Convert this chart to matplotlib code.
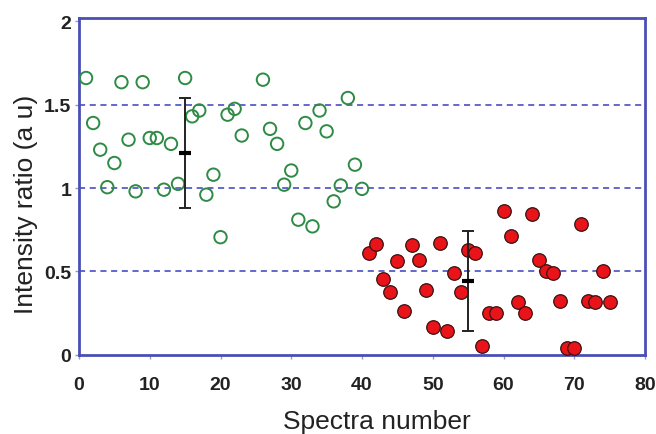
import matplotlib
matplotlib.use("Agg")
import matplotlib.pyplot as plt
import numpy as np

plt.rcParams['font.family'] = ['Liberation Sans', 'DejaVu Sans']

# Group 1 (open green circles)
green_x = [1, 2, 3, 4, 5, 6, 7, 8, 9, 10, 11, 12, 13, 14, 15, 16, 17, 18, 19, 20,
           21, 22, 23, 26, 27, 28, 29, 30, 31, 32, 33, 34, 35, 36, 37, 38, 39, 40]
green_y = [1.66, 1.39, 1.23, 1.005, 1.15, 1.635, 1.29, 0.98, 1.635, 1.30, 1.30, 0.99,
           1.265, 1.025, 1.66, 1.43, 1.465, 0.96, 1.08, 0.705, 1.44, 1.475, 1.315,
           1.65, 1.355, 1.265, 1.02, 1.105, 0.81, 1.39, 0.77, 1.465, 1.34, 0.92,
           1.015, 1.54, 1.14, 0.995]

# Group 2 (filled red circles)
red_x = [41, 42, 43, 44, 45, 46, 47, 48, 49, 50, 51, 52, 53, 54, 55, 56, 57, 58, 59,
         60, 61, 62, 63, 64, 65, 66, 67, 68, 69, 70, 71, 72, 73, 74, 75]
red_y = [0.61, 0.665, 0.455, 0.375, 0.56, 0.265, 0.66, 0.57, 0.39, 0.165, 0.67, 0.14,
         0.49, 0.375, 0.63, 0.61, 0.055, 0.25, 0.25, 0.86, 0.71, 0.315, 0.25, 0.845,
         0.57, 0.5, 0.49, 0.325, 0.04, 0.04, 0.785, 0.325, 0.315, 0.5, 0.315]

# Mean +/- SD
err_x = [15, 55]
err_mean = [1.21, 0.44]
err_sd = [0.33, 0.30]

x_ticks = [0, 10, 20, 30, 40, 50, 60, 70, 80]
y_ticks = [0, 0.5, 1, 1.5, 2]
y_tick_labels = ['0', '0.5', '1', '1.5', '2']
grid_levels = [0.5, 1.0, 1.5]

spine_col = '#4a4fb5'
fig = plt.figure(figsize=(6.56, 4.35), dpi=100)
ax = fig.add_axes([79/656, 1 - 355.7/435, (645 - 79)/656, (355.7 - 19)/435])

for g in grid_levels:
    ax.axhline(g, color='#3a3fc0', lw=1.1, ls=(0, (4, 3)), zorder=1)

ax.scatter(green_x, green_y, s=80, facecolors='none', edgecolors='#2e8b45',
           linewidths=1.4, zorder=3)
ax.scatter(red_x, red_y, s=95, facecolors='#e8141a', edgecolors='#3a1010',
           linewidths=0.9, zorder=3)

ax.errorbar(err_x, err_mean, yerr=err_sd, fmt='none', ecolor='#222222',
            elinewidth=1.4, capsize=4, capthick=1.4, zorder=4)
ax.plot(err_x, err_mean, ls='none', marker='_', ms=8, mew=3, color='black', zorder=5)

ax.set_xlim(0, 80)
ax.set_ylim(0, 2.02)
ax.set_xticks(x_ticks)
ax.set_yticks(y_ticks)
ax.set_yticklabels(y_tick_labels)
for lab in ax.get_xticklabels() + ax.get_yticklabels():
    lab.set_fontweight('bold')
    lab.set_fontsize(14)
    lab.set_color('#222222')
ax.tick_params(axis='both', direction='out', length=3, width=1, color='#9999bb')
ax.tick_params(axis='x', pad=12)
ax.tick_params(axis='y', pad=2.5)

for s in ax.spines.values():
    s.set_color(spine_col)
    s.set_linewidth(2)

ax.set_xlabel('Spectra number', fontsize=19, color='#222222')
ax.set_ylabel('Intensity ratio (a u)', fontsize=19, color='#222222')
ax.xaxis.set_label_coords(0.526, -0.162)
ax.yaxis.set_label_coords(-0.072, 0.45)

fig.savefig('out.png', dpi=100)
